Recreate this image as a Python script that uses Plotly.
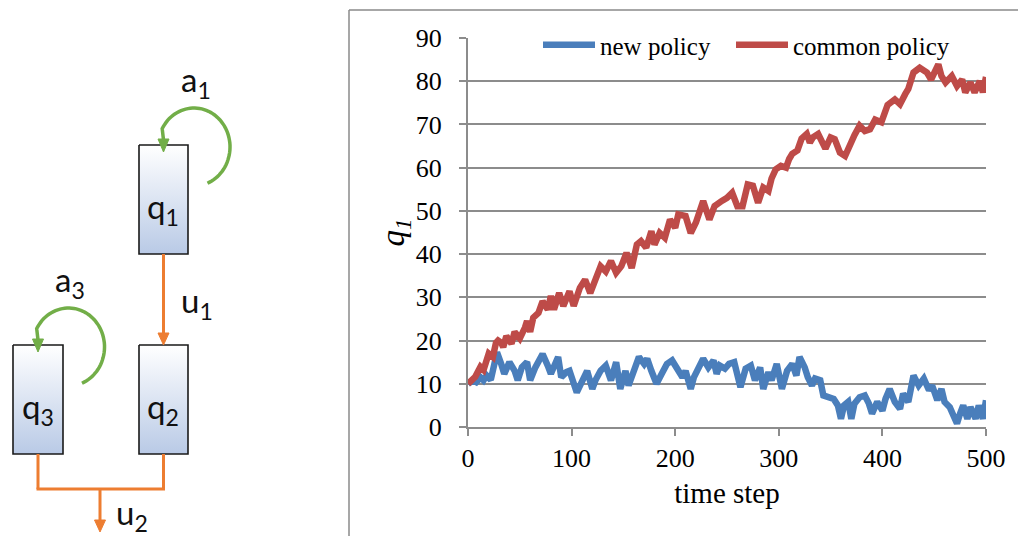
import numpy as np
import plotly.graph_objects as go

W, H = 1018, 536

# ---- queue length q1 over time under the two policies ----
new_t = [0, 5, 8, 12, 15, 18, 22, 25, 28, 32, 35, 40, 45, 48, 52, 57, 60, 65, 72, 77,
         80, 87, 90, 95, 98, 105, 110, 115, 120, 123, 128, 133, 138, 143, 147, 152, 155, 160, 165, 170,
         173, 177, 182, 187, 192, 197, 202, 207, 210, 215, 218, 223, 227, 232, 237, 240, 243, 248, 252, 257,
         260, 263, 268, 273, 277, 282, 285, 290, 293, 298, 303, 308, 313, 317, 320, 325, 328, 332, 335, 340,
         343, 348, 353, 357, 360, 363, 367, 370, 373, 378, 383, 387, 390, 395, 400, 403, 407, 412, 417, 420,
         425, 430, 435, 440, 445, 448, 453, 457, 460, 465, 472, 475, 478, 482, 485, 490, 493, 497, 500]
new_q = [10, 10.8, 10.4, 11.5, 10.8, 11.9, 10.9, 14.5, 17.3, 14.6, 12.3, 15, 13, 10.8, 13.8, 15, 10.8, 13.8, 16.9, 14.2,
         12.3, 16.2, 11.5, 12.7, 13, 8, 10.8, 13, 8.8, 10.8, 13, 14.2, 10.8, 15, 8.8, 13, 9.6, 13, 16.2, 14.6,
         15.8, 13, 10, 12.3, 14.6, 15.4, 13.5, 11.5, 13, 8.8, 11.5, 14.2, 15.8, 13.8, 15.4, 12.3, 14.2, 13.5, 14.6, 15,
         12.3, 9.2, 13.5, 14.2, 10.8, 13.8, 8.8, 12.7, 10.8, 14.6, 8.8, 13, 14.6, 11.9, 16.2, 13.8, 11.5, 9.6, 11.2, 10.8,
         7.3, 6.9, 6.5, 5, 1.9, 5, 5.8, 1.9, 5.4, 6.9, 7.3, 5.4, 3.1, 5.8, 3.8, 6.5, 8.8, 5.8, 4.2, 7.7,
         5.8, 11.9, 9.6, 11.2, 8.5, 9.6, 6.2, 8.8, 5.8, 4.6, 0.8, 3.1, 5, 1.9, 4.6, 1.9, 5, 1.9, 6.2]

common_t = [0, 4, 7, 12, 15, 20, 24, 27, 29, 32, 34, 37, 42, 45, 50, 55, 57, 60, 63, 68,
            72, 77, 80, 83, 88, 92, 98, 102, 108, 113, 118, 123, 128, 133, 138, 143, 148, 153, 158, 163,
            167, 172, 177, 180, 185, 190, 195, 200, 203, 210, 215, 220, 227, 233, 238, 245, 250, 255, 260, 265,
            270, 275, 280, 285, 290, 293, 297, 302, 307, 310, 313, 318, 322, 327, 330, 333, 338, 345, 350, 354,
            359, 364, 369, 373, 378, 383, 388, 393, 399, 405, 412, 417, 422, 425, 430, 436, 443, 447, 454, 457,
            461, 467, 472, 477, 480, 485, 489, 494, 497, 500]
common_q = [10, 11, 11.6, 13.9, 13.2, 17, 16.2, 19.5, 20, 19.5, 18.5, 21, 19.3, 22, 20.5, 23, 24.5, 22, 25.3, 26.4,
            29.1, 27.2, 30.3, 27.2, 31, 28, 31.4, 28, 32.2, 34.1, 31, 34.1, 37.2, 36, 38.4, 35.7, 37.2, 40.3, 36.8, 42.2,
            43, 41.5, 45.3, 42.2, 44.9, 43.8, 48, 46.1, 49.2, 48.8, 44.9, 47.3, 52.3, 48, 51.1, 52.3, 53, 54.2, 51.1, 51.1,
            56.1, 55.8, 51.9, 55.4, 54.6, 57.5, 59.6, 60.4, 60, 62, 63.2, 64, 66.7, 67.8, 65.8, 67, 67.8, 64.4, 67, 66.6,
            63.5, 62.7, 65.8, 67.5, 69.7, 68.5, 68.9, 71.1, 70.5, 74.5, 75.8, 74.7, 77, 78.2, 82, 83.1, 82, 80.4, 83.9, 81.2,
            79.7, 81.2, 78.9, 80.4, 77.4, 79.7, 77.4, 80, 77.4, 81]

x_ticks = [0, 100, 200, 300, 400, 500]
y_ticks = list(range(0, 91, 10))

BLUE = "#4A7EBB"
RED = "#BE4B48"
GRID = "#8C8C8C"
GREEN = "#72AE48"
ORANGE = "#ED7D31"
SERIF = "Liberation Serif"
SANS = "Lato"

fig = go.Figure()

fig.add_trace(go.Scatter(x=new_t, y=new_q, mode="lines", name="new policy", legend="legend",
                         line=dict(color=BLUE, width=6.5), xaxis="x", yaxis="y"))
fig.add_trace(go.Scatter(x=common_t, y=common_q, mode="lines", name="common policy", legend="legend2",
                         line=dict(color=RED, width=6.5), xaxis="x", yaxis="y"))

# ---- queue network schematic (pixel-like coordinates on a hidden axis pair) ----
boxes = {"q1": (139, 145, 188, 254), "q2": (139, 345, 188, 454), "q3": (13, 345, 63, 454)}
for name, (x0, y0, x1, y1) in boxes.items():
    fig.add_trace(go.Scatter(
        x=[x0, x1, x1, x0, x0], y=[y0, y0, y1, y1, y0], mode="lines",
        fill="toself", line=dict(color="#1a1a1a", width=1.6),
        fillgradient=dict(type="vertical", start=y0, stop=y1,
                          colorscale=[[0, "#FFFFFF"], [1, "#B9CAE6"]]),
        xaxis="x2", yaxis="y2", showlegend=False, hoverinfo="skip"))

shapes = []


def seg(x0, y0, x1, y1, color=ORANGE, w=3):
    shapes.append(dict(type="line", xref="x2", yref="y2", x0=x0, y0=y0, x1=x1, y1=y1,
                       line=dict(color=color, width=w)))


def head_down(x, tip, color, half=5.5, length=12):
    shapes.append(dict(type="path", xref="x2", yref="y2",
                       path=f"M {x-half} {tip-length} L {x+half} {tip-length} L {x} {tip} Z",
                       fillcolor=color, line=dict(color=color, width=1)))


# u1: q1 -> q2
seg(163.5, 254, 163.5, 336)
head_down(163.5, 345, ORANGE)
# u2: q2 and q3 merge, leave the network
seg(38, 454, 38, 489)
seg(163.5, 454, 163.5, 489)
seg(36.5, 489, 165, 489)
seg(100, 489, 100, 522)
head_down(100, 532, ORANGE)


def loop(dx, dy):
    th = np.radians(np.linspace(-68, 152, 60))
    xs = 194 + 36 * np.cos(th) + dx
    ys = 147 - 39 * np.sin(th) + dy
    pts = " L ".join(f"{a:.1f} {b:.1f}" for a, b in zip(xs, ys))
    shapes.append(dict(type="path", xref="x2", yref="y2", path="M " + pts + f" L {163.5+dx} {140+dy}",
                       line=dict(color=GREEN, width=3.5)))
    head_down(163.5 + dx, 152 + dy, GREEN, half=5.5, length=13)


loop(0, 0)
loop(-125.5, 200)

# outer frame of the chart area
shapes.append(dict(type="line", xref="paper", yref="paper", x0=349 / W, x1=349 / W, y0=0, y1=1 - 10 / H,
                   line=dict(color="#8A8A8A", width=1.5)))
shapes.append(dict(type="line", xref="paper", yref="paper", x0=349 / W, x1=1, y0=1 - 10 / H, y1=1 - 10 / H,
                   line=dict(color="#8A8A8A", width=1.5)))

annotations = []


def label(text, x, y, size=33):
    annotations.append(dict(text=text, x=x, y=y, xref="x2", yref="y2", showarrow=False,
                            font=dict(family=SANS, size=size, color="#111111"),
                            xanchor="center", yanchor="middle"))


label("q<sub>1</sub>", 163, 208)
label("q<sub>2</sub>", 163, 408)
label("q<sub>3</sub>", 38, 408)
label("a<sub>1</sub>", 196, 81)
label("a<sub>3</sub>", 70, 281)
label("u<sub>1</sub>", 197, 302)
label("u<sub>2</sub>", 132, 514)

legend_style = dict(orientation="h", xanchor="left", yanchor="middle",
                    font=dict(family=SERIF, size=25, color="black"), itemwidth=52,
                    bgcolor="rgba(0,0,0,0)", borderwidth=0)

fig.update_layout(
    template="none",
    width=W, height=H,
    margin=dict(l=0, r=0, t=0, b=0, autoexpand=False),
    paper_bgcolor="white", plot_bgcolor="rgba(0,0,0,0)",
    showlegend=True,
    legend=dict(x=538 / W, y=1 - 45 / H, **legend_style),
    legend2=dict(x=731 / W, y=1 - 45 / H, **legend_style),
    xaxis=dict(domain=[468 / W, 986 / W], range=[0, 500], tickvals=x_ticks, automargin=False,
               showgrid=False, zeroline=False, showline=True, linecolor=GRID, linewidth=2,
               ticks="outside", ticklen=7, tickwidth=2, tickcolor=GRID,
               tickfont=dict(family=SERIF, size=26, color="black"),
               title=dict(text="time step", font=dict(family=SERIF, size=29, color="black"), standoff=10),
               anchor="y", fixedrange=True),
    yaxis=dict(domain=[1 - 427 / H, 1 - 38 / H], range=[0, 90], tickvals=y_ticks, automargin=False,
               showgrid=True, gridcolor=GRID, gridwidth=2, zeroline=False,
               showline=True, linecolor=GRID, linewidth=2,
               ticks="outside", ticklen=7, tickwidth=2, tickcolor=GRID, ticklabelstandoff=12,
               tickfont=dict(family=SERIF, size=26, color="black"),
               title=dict(text="<i>q</i><sub><i>1</i></sub>", font=dict(family=SERIF, size=33, color="black"),
                          standoff=1),
               anchor="x", fixedrange=True),
    xaxis2=dict(domain=[0, 1], range=[0, W], visible=False, anchor="y2", fixedrange=True, automargin=False),
    yaxis2=dict(domain=[0, 1], range=[H, 0], visible=False, anchor="x2", fixedrange=True, automargin=False),
    shapes=shapes,
    annotations=annotations,
    hovermode=False,
)

fig.write_html("out.html", config={"displayModeBar": False, "staticPlot": True})
